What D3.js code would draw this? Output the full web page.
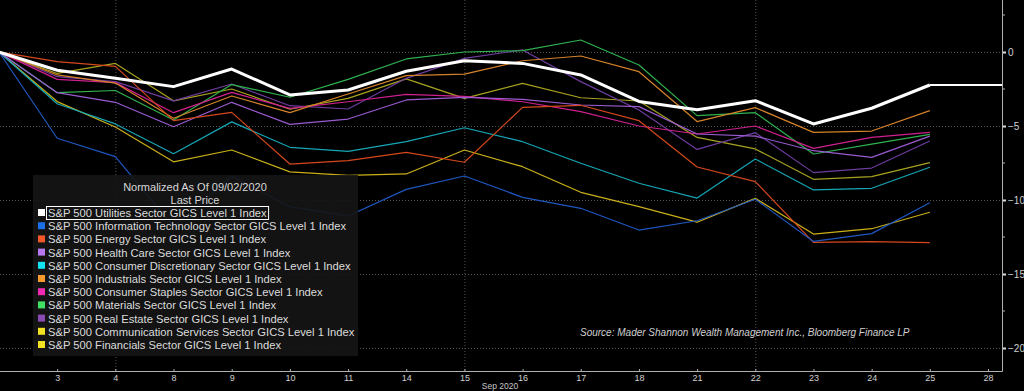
<!DOCTYPE html>
<html>
<head>
<meta charset="utf-8">
<script src="https://cdn.jsdelivr.net/npm/d3@7"></script>
<style>
html,body{margin:0;padding:0;background:#000;}
svg{display:block;}
</style>
</head>
<body>
<svg id="chart" width="1024" height="391"></svg>
<script>
// ---- data ----
const dates = ["2","3","4","8","9","10","11","14","15","16","17","18","21","22","23","24","25","28"];
const xTickLabels = ["3","4","8","9","10","11","14","15","16","17","18","21","22","23","24","25","28"];
const gridDates = ["4","15","22"];
const yTicks = [0,-5,-10,-15,-20];
const yMinorTicks = [2.5,-2.5,-7.5,-12.5,-17.5];

const utilities     = [0,-1.23,-1.78,-2.34,-1.15,-2.9,-2.57,-1.3,-0.59,-0.77,-1.55,-3.34,-3.9,-3.29,-4.86,-3.8,-2.23];
const infoTech      = [0,-5.83,-7.07,-11.8,-8.4,-10.45,-11.08,-9.28,-8.38,-9.82,-10.56,-12.03,-11.4,-9.95,-12.8,-12.27,-10.18];
const energy        = [0,-0.65,-0.97,-4.64,-4.08,-7.57,-7.34,-6.78,-7.45,-3.74,-3.6,-4.64,-7.77,-8.76,-12.86,-12.81,-12.88];
const healthCare    = [0,-2.75,-3.4,-5.05,-3.4,-4.89,-4.53,-3.24,-3.06,-3.2,-3.58,-3.69,-5.54,-5.68,-6.67,-7.12,-5.68];
const consDisc      = [0,-3.5,-4.86,-6.87,-4.72,-6.44,-6.71,-6.06,-5.12,-6.06,-7.52,-8.87,-9.87,-7.23,-9.32,-9.21,-7.79];
const industrials   = [0,-1.55,-2.1,-4.48,-2.97,-4.1,-2.84,-1.6,-1.5,-0.59,-0.27,-1.33,-4.7,-3.76,-5.43,-5.34,-3.96];
const consStaples   = [0,-1.85,-2.07,-4.1,-2.73,-3.81,-3.36,-2.86,-3.0,-3.36,-4.03,-5.0,-5.54,-5.0,-6.51,-5.77,-5.43];
const materials     = [0,-2.75,-2.6,-4.6,-2.2,-3.06,-1.85,-0.47,0.0,0.09,0.81,-0.88,-4.3,-4.1,-6.89,-6.22,-5.56];
const realEstate    = [0,-1.67,-2.0,-3.3,-2.16,-3.63,-3.85,-1.78,-0.43,0.14,-2.0,-3.92,-6.58,-5.45,-8.15,-7.84,-6.01];
const commServices  = [0,-3.35,-5.07,-7.42,-6.62,-8.1,-8.33,-8.24,-6.62,-7.75,-9.48,-10.45,-11.5,-9.89,-12.3,-11.94,-10.83];
const financials    = [0,-1.45,-0.77,-3.3,-2.5,-3.87,-3.13,-1.82,-3.13,-2.12,-3.09,-3.31,-5.77,-6.55,-8.6,-8.42,-7.48];

const seriesNames = [
  "S&P 500 Utilities Sector GICS Level 1 Index",
  "S&P 500 Information Technology Sector GICS Level 1 Index",
  "S&P 500 Energy Sector GICS Level 1 Index",
  "S&P 500 Health Care Sector GICS Level 1 Index",
  "S&P 500 Consumer Discretionary Sector GICS Level 1 Index",
  "S&P 500 Industrials Sector GICS Level 1 Index",
  "S&P 500 Consumer Staples Sector GICS Level 1 Index",
  "S&P 500 Materials Sector GICS Level 1 Index",
  "S&P 500 Real Estate Sector GICS Level 1 Index",
  "S&P 500 Communication Services Sector GICS Level 1 Index",
  "S&P 500 Financials Sector GICS Level 1 Index"
];
const seriesValues = [utilities, infoTech, energy, healthCare, consDisc, industrials, consStaples, materials, realEstate, commServices, financials];
const lineColors   = ["#ffffff","#1f57c0","#d4481c","#9a5ad0","#16a6b6","#d4822a","#d0208f","#2fb24e","#6e3c9e","#c9b01a","#a8a220"];
const swatchColors = ["#ffffff","#1a6ee8","#f0582a","#b878f0","#12e2f2","#f89a2c","#f02ab2","#42e062","#8a4cb2","#f2e224","#f2e224"];

const legendTitle = ["Normalized As Of 09/02/2020","Last Price"];
const sourceText = "Source: Mader Shannon Wealth Management Inc., Bloomberg Finance LP";
const monthLabel = "Sep 2020";

// ---- layout ----
const svg = d3.select("#chart");
const W = 1024, H = 391;
const plotRight = 1002, plotBottom = 371, plotTop = 0, plotLeft = 0;

svg.append("rect").attr("width",W).attr("height",H).attr("fill","#000");

const x = d3.scalePoint().domain(dates).range([-1, 988]);
const y = d3.scaleLinear().domain([0,-20]).range([52, 348]);

// gridlines
const grid = svg.append("g");
grid.selectAll("line.h").data(yTicks).join("line")
  .attr("x1",plotLeft).attr("x2",plotRight)
  .attr("y1",d=>y(d)+0.5).attr("y2",d=>y(d)+0.5)
  .attr("stroke","#555").attr("stroke-width",1).attr("stroke-dasharray","1,2");
grid.selectAll("line.v").data(gridDates).join("line")
  .attr("x1",d=>x(d)+0.5).attr("x2",d=>x(d)+0.5)
  .attr("y1",plotTop).attr("y2",plotBottom)
  .attr("stroke","#555").attr("stroke-width",1).attr("stroke-dasharray","1,2");

// lines
const line = d3.line().x((d,i)=>x(dates[i])).y(d=>y(d));
const linesG = svg.append("g");
for (let k = seriesValues.length-1; k >= 1; k--) {
  linesG.append("path").datum(seriesValues[k])
    .attr("d", line).attr("fill","none")
    .attr("stroke", lineColors[k]).attr("stroke-width",1.2)
    .attr("stroke-linejoin","round");
}
// utilities on top, with last-price extension to right edge
const uLast = utilities[utilities.length-1];
linesG.append("path").datum(utilities)
  .attr("d", line).attr("fill","none")
  .attr("stroke","#ffffff").attr("stroke-width",3).attr("stroke-linejoin","round");
linesG.append("line")
  .attr("x1", x(dates[utilities.length-1])).attr("x2", plotRight)
  .attr("y1", y(uLast)).attr("y2", y(uLast))
  .attr("stroke","#ffffff").attr("stroke-width",2);

// axes
const axisColor = "#b0b0b0";
const yAxis = d3.axisRight(y).tickValues(yTicks).tickSize(4).tickFormat(d3.format("d"));
const yAx = svg.append("g").attr("transform",`translate(${plotRight},0)`).call(yAxis);
yAx.select(".domain").remove();
yAx.selectAll("line").attr("stroke","#ddd").attr("stroke-width",2);
yAx.selectAll("text").attr("fill","#d0d0d0").attr("font-family","Liberation Sans, Arial, sans-serif")
  .attr("font-size",10).attr("x",6);
svg.append("g").selectAll("line").data(yMinorTicks).join("line")
  .attr("x1",plotRight).attr("x2",plotRight+3)
  .attr("y1",d=>y(d)).attr("y2",d=>y(d))
  .attr("stroke",axisColor).attr("stroke-width",1);
svg.append("line").attr("x1",plotRight+0.5).attr("x2",plotRight+0.5)
  .attr("y1",plotTop).attr("y2",plotBottom+0.5).attr("stroke",axisColor).attr("stroke-width",1);

const xAxis = d3.axisBottom(x).tickValues(xTickLabels).tickSize(3).tickSizeOuter(0);
const xAx = svg.append("g").attr("transform",`translate(0,${plotBottom})`).call(xAxis);
xAx.select(".domain").remove();
xAx.selectAll("line").attr("stroke",axisColor).attr("y2",-2);
xAx.selectAll("text").attr("fill","#d0d0d0").attr("font-family","Liberation Sans, Arial, sans-serif")
  .attr("font-size",9).attr("y",4);
svg.append("line").attr("x1",plotLeft).attr("x2",plotRight+0.5)
  .attr("y1",plotBottom+0.5).attr("y2",plotBottom+0.5).attr("stroke",axisColor).attr("stroke-width",1);
svg.append("text").attr("x", 500).attr("y", 389).attr("text-anchor","middle")
  .attr("fill","#c8c8c8").attr("font-family","Liberation Sans, Arial, sans-serif").attr("font-size",8.5)
  .text(monthLabel);

// source text
svg.append("text").attr("x",580).attr("y",336)
  .attr("fill","#cfcfcf").attr("font-family","Liberation Sans, Arial, sans-serif")
  .attr("font-style","italic").attr("font-size",10).text(sourceText);

// legend
const lg = svg.append("g");
const lgX = 33, lgY = 175, lgW = 325, lgH = 181;
lg.append("rect").attr("x",lgX).attr("y",lgY).attr("width",lgW).attr("height",lgH)
  .attr("fill","#151515").attr("fill-opacity",0.9);
const fontFam = "Liberation Sans, Arial, sans-serif";
lg.selectAll("text.title").data(legendTitle).join("text")
  .attr("x", lgX+162).attr("y",(d,i)=>191+i*13.3).attr("text-anchor","middle")
  .attr("fill","#d8d8d8").attr("font-family",fontFam).attr("font-size",11).text(d=>d);
const rowY = i => 217 + i*13.2;
lg.selectAll("rect.sw").data(seriesNames).join("rect")
  .attr("x",38).attr("y",(d,i)=>rowY(i)-8).attr("width",7).attr("height",7)
  .attr("fill",(d,i)=>swatchColors[i]);
const texts = lg.selectAll("text.item").data(seriesNames).join("text")
  .attr("x",48).attr("y",(d,i)=>rowY(i))
  .attr("fill","#dcdcdc").attr("font-family",fontFam).attr("font-size",11.2).text(d=>d);
// highlight box around first item
const bb = texts.nodes()[0].getBBox();
lg.append("rect").attr("x",bb.x-1.5).attr("y",rowY(0)-10.5).attr("width",bb.width+3).attr("height",13)
  .attr("fill","none").attr("stroke","#ffffff").attr("stroke-width",1);
</script>
</body>
</html>
